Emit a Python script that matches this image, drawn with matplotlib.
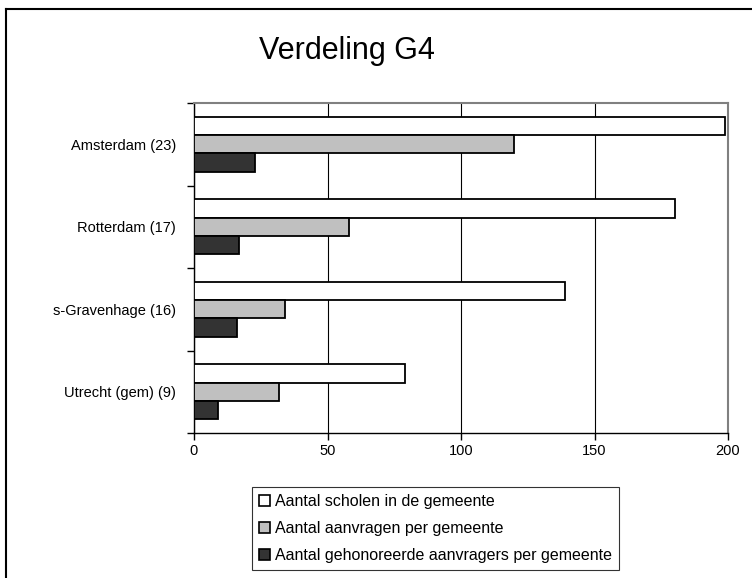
import numpy as np
import matplotlib.pyplot as plt
from matplotlib.lines import Line2D
from matplotlib.patches import Patch

plt.rcParams["font.family"] = ["Liberation Sans", "DejaVu Sans"]

gemeenten = ["Amsterdam (23)", "Rotterdam (17)", "s-Gravenhage (16)", "Utrecht (gem) (9)"]
scholen = [199, 180, 139, 79]
aanvragen = [120, 58, 34, 32]
gehonoreerd = [23, 17, 16, 9]

series_labels = [
    "Aantal scholen in de gemeente",
    "Aantal aanvragen per gemeente",
    "Aantal gehonoreerde aanvragers per gemeente",
]
colors = ["#ffffff", "#c0c0c0", "#333333"]

fig = plt.figure(figsize=(7.52, 5.78), dpi=100)
ax = fig.add_axes([194 / 752, 1 - 433 / 578, (728 - 194) / 752, (433 - 103) / 578])

n = len(gemeenten)
y = np.arange(n)[::-1] + 0.5  # Amsterdam bovenaan
h = 1 / 4.5
for i, (vals, col) in enumerate(zip([scholen, aanvragen, gehonoreerd], colors)):
    ax.barh(y + h - i * h, vals, height=h, color=col, edgecolor="black",
            linewidth=1.3, zorder=3)

ax.set_xlim(0, 200)
ax.set_ylim(0, n)
ax.set_xticks([0, 50, 100, 150, 200])
ax.xaxis.grid(True, color="black", linewidth=0.8, zorder=0)
ax.set_yticks(np.arange(n + 1))
ax.set_yticklabels([])
ax.set_yticks(y, minor=True)
ax.set_yticklabels(gemeenten, minor=True, fontsize=10.5)
ax.tick_params(axis="y", which="minor", length=0, pad=13)
ax.tick_params(axis="y", which="major", length=5, width=1, direction="out")
ax.tick_params(axis="x", length=5, width=1, labelsize=10.5, pad=3)

for s in ["left", "bottom"]:
    ax.spines[s].set_color("black")
    ax.spines[s].set_linewidth(1)
for s in ["top", "right"]:
    ax.spines[s].set_color("#808080")
    ax.spines[s].set_linewidth(1.5)

fig.text(347 / 752, 1 - 51 / 578, "Verdeling G4", fontsize=22,
         ha="center", va="center")

handles = [Patch(facecolor=c, edgecolor="black", linewidth=1.2) for c in colors]
leg = fig.legend(handles, series_labels, loc="upper left",
                 bbox_to_anchor=(252 / 752, 1 - 487 / 578), fontsize=11.5,
                 frameon=True, fancybox=False, handlelength=0.65, handleheight=0.65,
                 handletextpad=0.35, labelspacing=0.75, borderpad=0.45,
                 borderaxespad=0)
leg.get_frame().set_edgecolor("black")
leg.get_frame().set_linewidth(0.8)

# rand van het diagram (alleen boven en links zichtbaar)
fig.add_artist(Line2D([6 / 752, 1], [1 - 9 / 578, 1 - 9 / 578], color="black", linewidth=1.5))
fig.add_artist(Line2D([6 / 752, 6 / 752], [0, 1 - 9 / 578], color="black", linewidth=1.5))

fig.savefig("out.png", dpi=100)
